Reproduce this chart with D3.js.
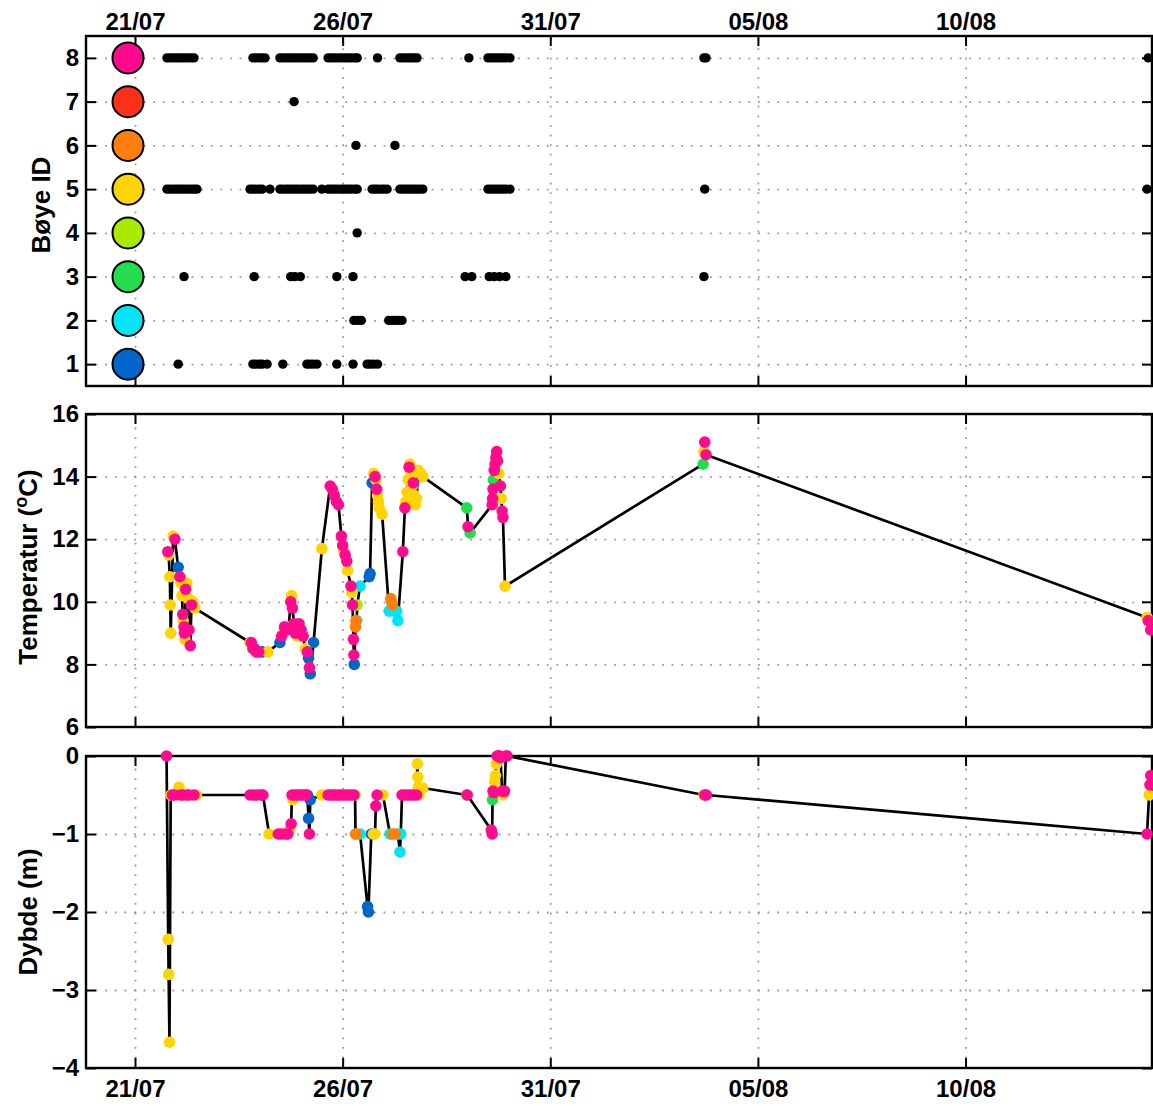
<!DOCTYPE html>
<html><head><meta charset="utf-8">
<script src="https://cdn.jsdelivr.net/npm/d3@7"></script>
<style>
body{margin:0;background:#fff;}
svg{display:block;font-family:"Liberation Sans",Arial,Helvetica,sans-serif;}
</style></head><body>
<svg id="chart" width="1153" height="1106"></svg>
<script>
// ---------- data ----------
const tickDates = ["2014-07-21","2014-07-26","2014-07-31","2014-08-05","2014-08-10"];
const buoyIds = [1,2,3,4,5,6,7,8];
const buoyColors = ["#0066cc","#00e5f5","#22dd4e","#aaea00","#ffd400","#ff7f0a","#ff3019","#ff0b8f"];
const buoyTicks = [1,2,3,4,5,6,7,8];
const tempTicks = [6,8,10,12,14,16];
const depthTicks = [0,-1,-2,-3,-4];

// days since 21/07 00:00 at which each buoy reported
const presence = [
 [1,[1.04,2.84,2.91,2.99,3.06,3.18,3.56,4.14,4.21,4.29,4.38,4.86,5.25,5.59,5.66,5.74,5.84]],
 [2,[5.27,5.36,5.45,6.11,6.19,6.26,6.34,6.43]],
 [3,[1.18,2.87,3.75,3.85,3.98,4.86,5.25,7.95,8.11,8.53,8.65,8.78,8.93,13.70]],
 [4,[5.35]],
 [5,[0.77,0.84,0.92,0.99,1.06,1.13,1.20,1.28,1.35,1.42,1.49,2.77,2.84,2.91,2.99,3.06,3.25,3.49,3.56,3.64,3.71,3.78,3.85,3.92,4.00,4.07,4.14,4.21,4.29,4.50,4.65,4.72,4.79,4.86,4.94,5.01,5.08,5.15,5.22,5.30,5.35,5.71,5.78,5.84,5.92,5.99,6.07,6.38,6.45,6.52,6.59,6.66,6.73,6.79,6.86,6.93,8.50,8.57,8.64,8.72,8.79,8.86,8.93,9.03,13.72,24.37]],
 [6,[5.32,6.26]],
 [7,[3.83]],
 [8,[0.77,0.84,0.92,0.99,1.06,1.13,1.20,1.28,1.35,1.42,2.84,2.91,2.99,3.06,3.13,3.49,3.56,3.64,3.71,3.78,3.85,3.92,4.00,4.07,4.14,4.21,4.29,4.65,4.72,4.79,4.86,4.94,5.01,5.08,5.15,5.22,5.30,5.35,5.84,6.38,6.45,6.52,6.59,6.66,6.73,6.79,8.04,8.50,8.57,8.64,8.72,8.79,8.86,8.93,9.03,13.70,13.75,24.40]]
];

// [day, buoy, temperature °C]
const tempObs = [
 [0.79,8,11.6],[0.81,5,11.5],[0.84,5,10.8],[0.85,5,9.9],[0.86,5,9.0],[0.92,5,12.1],[0.96,8,12.0],[1.04,1,11.1],[1.08,8,10.8],[1.10,5,10.6],[1.13,5,10.2],[1.15,8,9.6],[1.16,5,9.4],[1.18,8,9.2],[1.19,8,9.0],[1.20,5,8.8],[1.22,8,10.4],[1.25,5,10.6],[1.28,5,10.1],[1.30,8,9.1],[1.33,8,8.6],[1.36,8,9.9],[1.40,5,10.0],[1.44,5,9.8],
 [2.77,5,8.7],[2.80,8,8.7],[2.84,8,8.5],[2.88,1,8.5],[2.92,8,8.4],[2.98,8,8.4],[3.06,1,8.4],[3.20,5,8.4],[3.49,1,8.7],[3.53,8,8.9],[3.56,5,9.0],[3.60,8,9.2],[3.65,8,9.1],[3.70,5,9.2],[3.75,8,10.0],[3.77,5,10.2],[3.79,8,9.8],[3.83,8,9.3],[3.86,8,9.0],[3.90,5,8.9],[3.95,8,9.3],[4.00,8,9.1],[4.05,8,8.9],[4.10,5,8.5],[4.15,8,8.4],[4.18,1,8.2],[4.20,8,7.9],[4.22,1,7.7],[4.30,1,8.7],
 [4.50,5,11.7],[4.70,8,13.7],[4.75,8,13.6],[4.80,8,13.4],[4.85,8,13.2],[4.90,8,13.1],
 [4.97,8,12.1],[5.00,8,11.8],[5.03,5,11.6],[5.06,8,11.5],[5.10,8,11.3],[5.12,5,11.0],[5.20,8,10.5],[5.22,5,10.3],[5.24,8,9.9],[5.26,8,8.8],[5.27,8,8.3],[5.28,1,8.0],[5.31,6,9.2],[5.32,6,9.4],[5.34,2,9.4],[5.35,4,9.9],[5.42,2,10.5],[5.64,1,10.8],[5.66,1,10.9],[5.71,1,13.8],[5.75,5,14.1],[5.78,8,14.0],[5.80,5,13.9],[5.82,8,13.6],[5.84,5,13.4],[5.86,5,13.2],[5.88,5,13.0],[5.95,5,12.8],
 [6.12,2,9.7],[6.16,6,10.1],[6.18,6,10.0],[6.20,6,9.9],[6.25,2,9.7],[6.30,2,9.7],[6.33,2,9.4],[6.45,8,11.6],[6.50,8,13.0],[6.52,5,13.2],[6.55,5,13.5],[6.58,5,13.9],[6.60,8,14.3],[6.62,5,14.4],[6.65,5,14.1],[6.68,5,13.7],[6.70,8,13.8],[6.72,5,13.4],[6.75,5,13.1],[6.78,5,13.3],[6.82,5,14.2],[6.88,5,14.1],[6.93,5,14.0],
 [7.99,3,13.0],[8.02,8,12.4],[8.07,3,12.2],[8.60,8,13.1],[8.61,8,13.3],[8.62,8,13.6],[8.63,3,13.9],[8.65,8,14.2],[8.67,8,14.4],[8.69,8,14.6],[8.71,8,14.8],[8.73,8,14.5],[8.76,5,14.1],[8.80,8,13.7],[8.82,5,13.3],[8.84,8,12.9],[8.86,8,12.7],[8.91,5,10.5],
 [13.68,3,14.4],[13.70,5,14.8],[13.72,8,15.1],[13.75,8,14.7],
 [24.37,5,9.5],[24.40,8,9.4],[24.46,8,9.1]
];

// [day, buoy, depth m]
const depthObs = [
 [0.76,8,0],[0.80,5,-2.35],[0.81,5,-2.8],[0.83,5,-3.67],[0.86,5,-0.5],[0.90,8,-0.5],[0.95,8,-0.5],[1.00,5,-0.5],[1.06,5,-0.4],[1.10,8,-0.5],[1.15,8,-0.5],[1.20,5,-0.5],[1.25,8,-0.5],[1.30,8,-0.5],[1.35,5,-0.5],[1.42,8,-0.5],[1.48,5,-0.5],
 [2.77,8,-0.5],[2.85,8,-0.5],[2.95,8,-0.5],[3.04,1,-0.5],[3.08,8,-0.5],[3.23,5,-1.0],[3.45,8,-1.0],[3.52,8,-1.0],[3.58,5,-1.0],[3.63,8,-1.0],[3.68,8,-1.0],[3.72,5,-0.95],[3.76,8,-0.87],[3.78,8,-0.5],[3.80,5,-0.56],[3.84,8,-0.5],[3.90,8,-0.5],[3.96,8,-0.5],[4.02,8,-0.5],[4.08,8,-0.5],[4.12,8,-0.5],[4.15,1,-0.5],[4.18,1,-0.8],[4.20,8,-1.0],[4.22,1,-0.56],[4.50,5,-0.5],
 [4.65,8,-0.5],[4.71,8,-0.5],[4.77,8,-0.5],[4.83,8,-0.5],[4.89,8,-0.5],[4.95,8,-0.5],[5.01,8,-0.5],[5.07,8,-0.5],[5.13,8,-0.5],[5.19,8,-0.5],[5.27,8,-0.5],[5.30,4,-0.5],[5.31,6,-1.0],[5.33,6,-1.0],[5.42,2,-1.0],[5.60,1,-1.93],[5.62,1,-2.0],[5.69,1,-1.0],[5.74,5,-1.0],[5.78,5,-1.0],[5.80,8,-0.64],[5.83,8,-0.5],[5.97,5,-0.5],
 [6.14,2,-1.0],[6.20,6,-1.0],[6.26,6,-1.0],[6.33,2,-1.0],[6.38,2,-1.23],[6.40,2,-1.0],[6.43,8,-0.5],[6.50,8,-0.5],[6.57,8,-0.5],[6.64,8,-0.5],[6.71,8,-0.5],[6.78,8,-0.5],[6.80,5,-0.1],[6.81,5,-0.27],[6.82,5,-0.4],[6.84,5,-0.5],[6.93,5,-0.41],
 [7.99,3,-0.5],[8.00,8,-0.5],[8.58,8,-0.95],[8.60,8,-1.0],[8.61,3,-0.56],[8.62,8,-0.45],[8.64,8,-0.47],[8.66,5,-0.33],[8.68,5,-0.25],[8.70,5,-0.1],[8.72,8,0],[8.75,8,0],[8.78,8,0],[8.80,8,-0.02],[8.84,8,-0.45],[8.86,5,-0.5],[8.90,8,-0.45],[8.93,8,0],[8.96,8,0],
 [13.70,5,-0.5],[13.72,8,-0.5],[13.76,8,-0.5],
 [24.37,8,-1.0],[24.42,5,-0.5],[24.44,8,-0.37],[24.46,8,-0.25]
];

// ---------- drawing ----------
const svg = d3.select("#chart");
const base = new Date(2014, 6, 21);
const toDate = t => new Date(base.getTime() + t * 864e5);
const X0 = 86, X1 = 1152;
const x = d3.scaleTime().domain([toDate(-1.18), toDate(24.49)]).range([X0, X1]);
const parse = d3.timeParse("%Y-%m-%d");
const xTicks = tickDates.map(parse);
const fmt = d3.timeFormat("%d/%m");
const color = d3.scaleOrdinal().domain(buoyIds).range(buoyColors);
const FONT = "bold 24px 'Liberation Sans', Arial, sans-serif";
const minus = v => (v < 0 ? "\u2212" + Math.abs(v) : String(v));

const panels = [
  {y0:36, y1:386, domain:[0.5,8.5], ticks:buoyTicks, topLabels:true},
  {y0:414, y1:727, domain:[6,16], ticks:tempTicks},
  {y0:756, y1:1068, domain:[-4,0], ticks:depthTicks, bottomLabels:true}
];
panels.forEach(p => { p.y = d3.scaleLinear().domain(p.domain).range([p.y1, p.y0]); });

function styleAxis(g){
  g.select(".domain").remove();
  g.selectAll(".tick line").attr("stroke","#000").attr("stroke-width",2);
  g.selectAll(".tick text").style("font", FONT).attr("fill","#000");
}

panels.forEach(p => {
  const g = svg.append("g");
  const h = p.y1 - p.y0, w = X1 - X0;
  const gridY = p.ticks.filter(v => v > p.domain[0] && v < p.domain[1]);
  g.append("g").attr("transform",`translate(${X0},0)`)
    .call(d3.axisLeft(p.y).tickValues(gridY).tickSize(-w).tickFormat(""))
    .call(a => { a.select(".domain").remove();
      a.selectAll(".tick line").attr("stroke","#9a9a9a").attr("stroke-width",1.8).attr("stroke-dasharray","1.8,7.8"); });
  g.append("g").attr("transform",`translate(0,${p.y1})`)
    .call(d3.axisBottom(x).tickValues(xTicks).tickSize(-h).tickFormat(""))
    .call(a => { a.select(".domain").remove();
      a.selectAll(".tick line").attr("stroke","#9a9a9a").attr("stroke-width",1.8).attr("stroke-dasharray","1.8,7.8"); });
  g.append("g").attr("transform",`translate(${X0},0)`)
    .call(d3.axisLeft(p.y).tickValues(p.ticks).tickSize(-10).tickPadding(7).tickFormat(minus))
    .call(styleAxis);
  g.append("g").attr("transform",`translate(${X1},0)`)
    .call(d3.axisRight(p.y).tickValues(p.ticks).tickSize(-10).tickFormat(""))
    .call(styleAxis);
  g.append("g").attr("transform",`translate(0,${p.y0})`)
    .call(d3.axisTop(x).tickValues(xTicks).tickSize(-10).tickPadding(p.topLabels ? 6 : 0).tickFormat(p.topLabels ? fmt : ""))
    .call(styleAxis);
  g.append("g").attr("transform",`translate(0,${p.y1})`)
    .call(d3.axisBottom(x).tickValues(xTicks).tickSize(-10).tickPadding(p.bottomLabels ? 12 : 0).tickFormat(p.bottomLabels ? fmt : ""))
    .call(styleAxis);
  g.append("rect").attr("x",X0).attr("y",p.y0).attr("width",w).attr("height",h)
    .attr("fill","none").attr("stroke","#000").attr("stroke-width",2.4);
  p.g = g;
});

// ---- panel 1: buoy presence ----
const P1 = panels[0];
const legendX = 128;
P1.g.append("g").selectAll("circle").data(buoyIds).join("circle")
  .attr("cx", legendX).attr("cy", d => P1.y(d)).attr("r", 15.5)
  .attr("fill", d => color(d)).attr("stroke","#000").attr("stroke-width",2);
const presPts = presence.flatMap(([b, days]) => days.map(t => ({b, t})));
P1.g.append("g").selectAll("circle").data(presPts).join("circle")
  .attr("cx", d => x(toDate(d.t))).attr("cy", d => P1.y(d.b)).attr("r", 4.7).attr("fill","#000");

// ---- panels 2 & 3: series ----
function drawSeries(P, obs){
  const pts = obs.map(([t,b,v]) => ({t, b, v})).sort((a,b) => a.t - b.t);
  const line = d3.line().x(d => x(toDate(d.t))).y(d => P.y(d.v));
  P.g.append("path").datum(pts).attr("d", line).attr("fill","none")
    .attr("stroke","#000").attr("stroke-width",2.7).attr("stroke-linejoin","round");
  const ordered = pts.slice().sort((a,b) => a.b - b.b || a.t - b.t);
  P.g.append("g").selectAll("circle").data(ordered).join("circle")
    .attr("cx", d => x(toDate(d.t))).attr("cy", d => P.y(d.v)).attr("r", 5.8)
    .attr("fill", d => color(d.b));
}
drawSeries(panels[1], tempObs);
drawSeries(panels[2], depthObs);

// ---- axis titles ----
function title(cx, cy, build){
  const t = svg.append("text").attr("transform",`translate(${cx},${cy}) rotate(-90)`)
    .attr("text-anchor","middle").style("font","bold 26px 'Liberation Sans', Arial, sans-serif").attr("fill","#000");
  build(t);
}
title(50, 205, t => t.text("Bøye ID"));
title(37, 567, t => {
  t.append("tspan").text("Temperatur (");
  t.append("tspan").text("o").attr("font-size","18px").attr("dy","-10");
  t.append("tspan").text("C)").attr("dy","10");
});
title(37, 912, t => t.text("Dybde (m)"));
</script>
</body></html>
